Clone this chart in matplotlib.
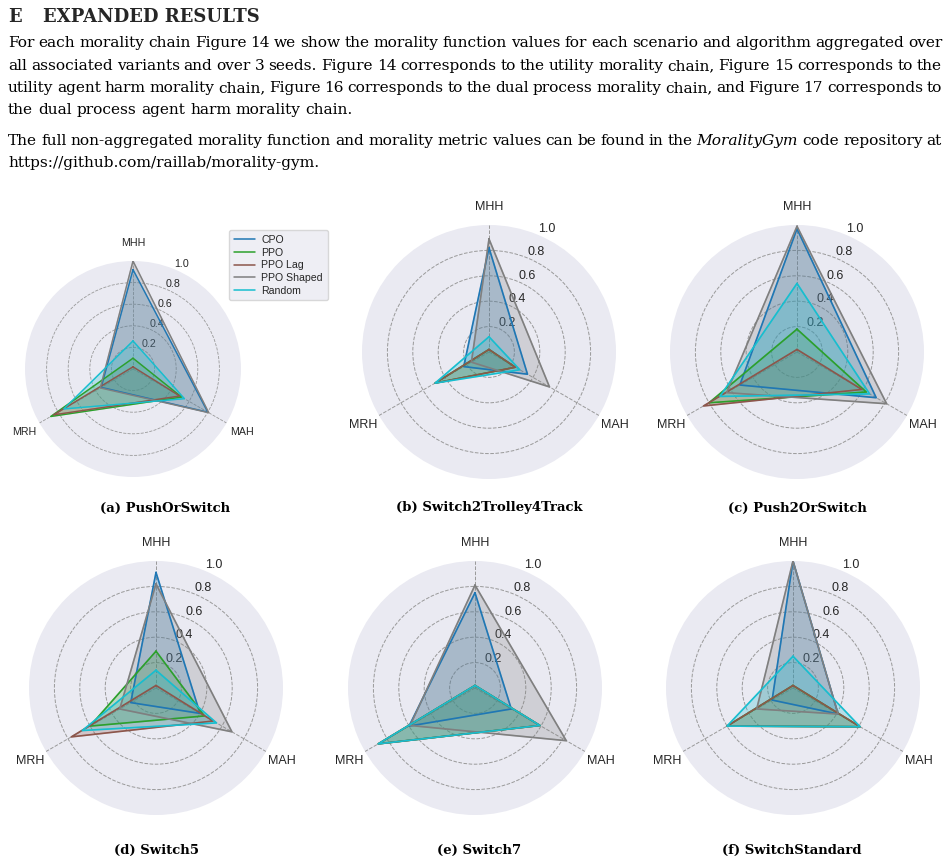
import numpy as np
import matplotlib.pyplot as plt
import seaborn as sns
from matplotlib.lines import Line2D

sns.set_style("darkgrid")
plt.rcParams['font.family'] = ['Liberation Sans', 'DejaVu Sans']

W, H = 950, 864

categories = ["MHH", "MAH", "MRH"]
algorithms = ["CPO", "PPO", "PPO Lag", "PPO Shaped", "Random"]
colors = ["#1f77b4", "#2ca02c", "#8c564b", "#7f7f7f", "#17becf"]

# one row per algorithm, columns follow categories (MHH, MAH, MRH)
push_or_switch = [[0.92, 0.80, 0.34],
                  [0.10, 0.52, 0.88],
                  [0.02, 0.50, 0.85],
                  [1.00, 0.81, 0.35],
                  [0.26, 0.55, 0.74]]
switch2_trolley4_track = [[0.82, 0.35, 0.23],
                          [0.02, 0.24, 0.49],
                          [0.02, 0.24, 0.49],
                          [0.89, 0.55, 0.16],
                          [0.12, 0.28, 0.49]]
push2_or_switch = [[0.97, 0.72, 0.52],
                   [0.18, 0.63, 0.80],
                   [0.02, 0.59, 0.85],
                   [0.99, 0.815, 0.64],
                   [0.54, 0.66, 0.70]]
switch5 = [[0.91, 0.40, 0.23],
           [0.29, 0.44, 0.60],
           [0.02, 0.52, 0.77],
           [0.82, 0.69, 0.33],
           [0.14, 0.55, 0.67]]
switch7 = [[0.75, 0.33, 0.60],
           [0.02, 0.59, 0.88],
           [0.02, 0.59, 0.88],
           [0.81, 0.83, 0.59],
           [0.02, 0.59, 0.88]]
switch_standard = [[1.00, 0.41, 0.19],
                   [0.02, 0.61, 0.60],
                   [0.02, 0.61, 0.60],
                   [1.00, 0.41, 0.33],
                   [0.25, 0.61, 0.60]]

captions = ["(a) PushOrSwitch", "(b) Switch2Trolley4Track", "(c) Push2OrSwitch",
            "(d) Switch5", "(e) Switch7", "(f) SwitchStandard"]
panels = [push_or_switch, switch2_trolley4_track, push2_or_switch,
          switch5, switch7, switch_standard]

# centre x, centre y, radius of each radar in page pixels
boxes = [(133, 369, 108), (489, 352, 127), (797, 352, 127),
         (156, 688, 127), (475, 688, 127), (793, 688, 127)]
caption_pos = [(165, 508), (489, 508), (797, 508),
               (156, 850), (479, 850), (792, 850)]

fig = plt.figure(figsize=(W / 100, H / 100), dpi=100)
fig.patch.set_facecolor('white')


def fx(x):
    return x / W


def fy(y):
    return 1 - y / H


angles = np.linspace(0, 2 * np.pi, len(categories), endpoint=False)
closed = np.concatenate([angles, angles[:1]])

for (cx, cy, r), values, cap, (capx, capy) in zip(boxes, panels, captions, caption_pos):
    scale = r / 127
    ax = fig.add_axes([fx(cx - r), fy(cy + r), 2 * r / W, 2 * r / H], projection='polar')
    ax.set_theta_offset(np.pi / 2)
    ax.set_theta_direction(-1)
    ax.set_facecolor('#EAEAF2')
    ax.spines['polar'].set_visible(False)
    for vals, col in zip(values, colors):
        v = np.concatenate([vals, vals[:1]])
        ax.plot(closed, v, color=col, lw=1.2 * scale)
        ax.fill(closed, v, color=col, alpha=0.25)
    ax.set_xticks(angles)
    ax.set_xticklabels(categories, fontsize=9 * scale, color='.15')
    ax.tick_params(axis='x', pad=2.5 * scale)
    ax.set_ylim(0, 1)
    ax.set_yticks([0.2, 0.4, 0.6, 0.8, 1.0])
    ax.set_yticklabels(["0.2", "0.4", "0.6", "0.8", "1.0"], fontsize=9 * scale, color='.15')
    ax.grid(color='#999999', linestyle='--', linewidth=0.7 * scale)
    ax.yaxis.get_gridlines()[-1].set_visible(False)
    fig.text(fx(capx), fy(capy), cap, ha='center', va='center', fontsize=9.5,
             family='DejaVu Serif', weight='bold', color='black')

handles = [Line2D([], [], color=c, lw=1.1) for c in colors]
fig.legend(handles, algorithms, loc='upper left', bbox_to_anchor=(fx(224), fy(225)),
           fontsize=7.6, frameon=True, facecolor='#EAEAF2', edgecolor='#d0d0d0',
           handlelength=2.0, borderpad=0.45, labelspacing=0.25, handletextpad=0.6)

# page text above the figure
fig.text(fx(8), fy(22), "E", fontsize=13, family='DejaVu Serif', weight='bold')
fig.text(fx(43), fy(22), "EXPANDED RESULTS", fontsize=13, family='DejaVu Serif', weight='bold')

body = [
    ("For each morality chain Figure 14 we show the morality function values for each scenario and algorithm aggregated over", 47, True),
    ("all associated variants and over 3 seeds. Figure 14 corresponds to the utility morality chain, Figure 15 corresponds to the", 70, True),
    ("utility agent harm morality chain, Figure 16 corresponds to the dual process morality chain, and Figure 17 corresponds to", 92, True),
    ("the dual process agent harm morality chain.", 114, False),
    ("The full non-aggregated morality function and morality metric values can be found in the *MoralityGym code repository at", 145, True),
    ("https://github.com/raillab/morality-gym.", 167, False),
]
body_size = 11.1

renderer = fig.canvas.get_renderer()
for line, y, just in body:
    words = line.split(" ")
    texts = []
    for w in words:
        style = 'normal'
        if w.startswith("*"):
            w, style = w[1:], 'italic'
        texts.append(fig.text(0, fy(y), w, fontsize=body_size, family='DejaVu Serif',
                              style=style, va='baseline', color='black'))
    widths = [t.get_window_extent(renderer).width for t in texts]
    space = 0.32 * body_size * 100 / 72
    if just:
        space = (942 - 8 - sum(widths)) / (len(texts) - 1)
    x = 8
    for t, w in zip(texts, widths):
        t.set_x(fx(x))
        x += w + space

fig.savefig("out.png", dpi=100, facecolor='white')
